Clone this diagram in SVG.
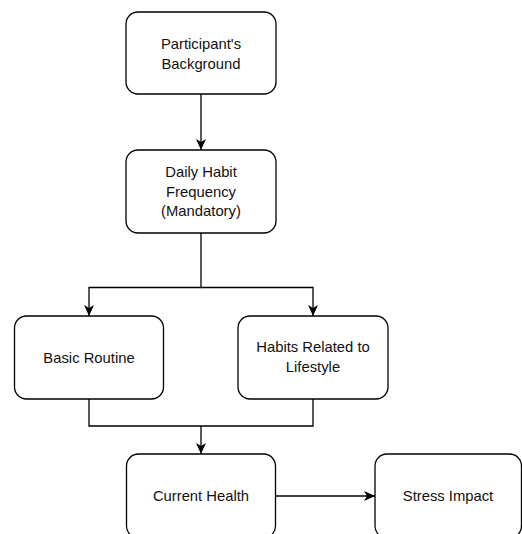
<svg xmlns="http://www.w3.org/2000/svg" width="522" height="534" viewBox="0 0 522 534">
<style>
.n{fill:#fff;stroke:#000;stroke-width:1.3}
.t{font-family:"Liberation Sans",Arial,sans-serif;font-size:14.8px;fill:#111;text-anchor:middle}
.c{fill:none;stroke:#000;stroke-width:1.3}
</style>
<defs>
<marker id="ah" viewBox="0 0 11 10" refX="11" refY="5" markerWidth="11" markerHeight="10" markerUnits="userSpaceOnUse" orient="auto">
<path d="M0,0 L11,5 L0,10 L3,5 Z" fill="#000"/>
</marker>
</defs>
<rect width="522" height="534" fill="#fff"/>
<g id="connectors">
<path class="c" d="M201,94 V150" marker-end="url(#ah)"/>
<path class="c" d="M201,233 V287.5 H89 V316" marker-end="url(#ah)"/>
<path class="c" d="M201,287.5 H313 V316" marker-end="url(#ah)"/>
<path class="c" d="M89,399 V426 H313 V399"/>
<path class="c" d="M201,426 V454" marker-end="url(#ah)"/>
<path class="c" d="M276,496 H375" marker-end="url(#ah)"/>
</g>
<g id="n1"><rect class="n" x="126" y="12" width="150" height="82" rx="12"/><text class="t" x="201" y="49">Participant's</text><text class="t" x="201" y="68.5">Background</text></g>
<g id="n2"><rect class="n" x="126" y="150" width="150" height="83" rx="12"/><text class="t" x="201" y="177">Daily Habit</text><text class="t" x="201" y="196.5">Frequency</text><text class="t" x="201" y="216">(Mandatory)</text></g>
<g id="n3"><rect class="n" x="14.5" y="316" width="149" height="83" rx="12"/><text class="t" x="89" y="362.5">Basic Routine</text></g>
<g id="n4"><rect class="n" x="238" y="316" width="150" height="83" rx="12"/><text class="t" x="313" y="352">Habits Related to</text><text class="t" x="313" y="372">Lifestyle</text></g>
<g id="n5"><rect class="n" x="126.5" y="454" width="149" height="84" rx="12"/><text class="t" x="201" y="501">Current Health</text></g>
<g id="n6"><rect class="n" x="375" y="454" width="146.5" height="84" rx="12"/><text class="t" x="448" y="501">Stress Impact</text></g>
</svg>
